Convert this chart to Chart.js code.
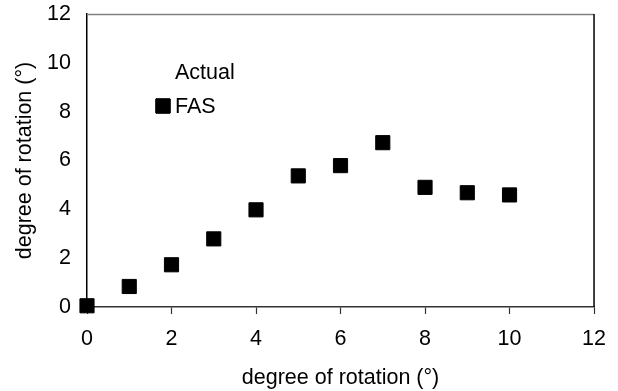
<!DOCTYPE html>
<html>
<head>
<meta charset="utf-8">
<script src="https://cdn.jsdelivr.net/npm/chart.js@4/dist/chart.umd.min.js"></script>
<style>
  html, body { margin: 0; padding: 0; background: #fff; }
  #wrap { width: 618px; height: 391px; }
</style>
</head>
<body>
<div id="wrap"><canvas id="c" width="618" height="391"></canvas></div>
<script>
// Applied rotation (degrees) and the rotation measured by FAS
const appliedDeg = [0, 1, 2, 3, 4, 5, 6, 7, 8, 9, 10];
const fasDeg = [0.05, 0.84, 1.73, 2.79, 3.98, 5.37, 5.79, 6.73, 4.90, 4.68, 4.59];
// Reference series has no plotted points
const actualDeg = [];
const axisTicks = [0, 2, 4, 6, 8, 10, 12];

const FONT = "'Liberation Sans', Arial, sans-serif";
const FSIZE = 21.5;

// Frame lines on the top and right of the plot area
const framePlugin = {
  id: 'frame',
  afterDraw(chart) {
    const { ctx, chartArea: a } = chart;
    ctx.save();
    ctx.lineWidth = 1.5;
    ctx.strokeStyle = '#808080';
    ctx.beginPath();
    ctx.moveTo(a.left, a.top + 0.5);
    ctx.lineTo(a.right, a.top + 0.5);
    ctx.stroke();
    ctx.strokeStyle = '#000';
    ctx.beginPath();
    ctx.moveTo(a.right, a.top);
    ctx.lineTo(a.right, a.bottom);
    ctx.stroke();
    ctx.restore();
  }
};

// Legend drawn inside the plot area, one row per dataset
const insideLegend = {
  id: 'insideLegend',
  afterDraw(chart) {
    const { ctx, chartArea: a } = chart;
    const rows = [a.top + 59, a.top + 93];
    ctx.save();
    ctx.font = FSIZE + 'px ' + FONT;
    ctx.fillStyle = '#000';
    ctx.textBaseline = 'middle';
    chart.data.datasets.forEach((ds, i) => {
      const y = rows[i];
      if (ds.pointStyle) {
        Chart.helpers.drawPoint(ctx, {
          pointStyle: ds.pointStyle, radius: ds.pointRadius,
          borderWidth: ds.borderWidth, rotation: 0
        }, a.left + 76, y - 1);
        ctx.fillStyle = ds.pointBackgroundColor;
        ctx.strokeStyle = ds.pointBorderColor;
        ctx.lineWidth = ds.borderWidth;
        ctx.fill();
        ctx.stroke();
        ctx.fillStyle = '#000';
      }
      ctx.fillText(ds.label, a.left + 88, y);
    });
    ctx.restore();
  }
};

new Chart(document.getElementById('c'), {
  type: 'scatter',
  data: {
    datasets: [
      {
        label: 'Actual',
        data: actualDeg.map((v, i) => ({ x: appliedDeg[i], y: v })),
        pointStyle: false,
        showLine: false
      },
      {
        label: 'FAS',
        data: appliedDeg.map((x, i) => ({ x, y: fasDeg[i] })),
        pointStyle: 'rect',
        pointRadius: 10,
        pointHoverRadius: 10,
        borderWidth: 1,
        pointBackgroundColor: '#000',
        pointBorderColor: '#000',
        clip: false
      }
    ]
  },
  options: {
    responsive: false,
    animation: false,
    layout: { padding: { top: 0, right: 19, left: 0, bottom: 0 } },
    plugins: { legend: { display: false }, tooltip: { enabled: false } },
    scales: {
      x: {
        type: 'linear',
        min: 0, max: 12,
        afterBuildTicks(scale) { scale.ticks = axisTicks.map(v => ({ value: v })); },
        afterFit(scale) { scale.height = 84; },
        grid: { drawOnChartArea: false, tickLength: 7, color: '#333', tickColor: '#333', tickWidth: 1.2 },
        border: { color: '#333', width: 1.5 },
        ticks: { color: '#000', font: { family: FONT, size: FSIZE }, padding: 12, maxRotation: 0 },
        title: { display: true, text: 'degree of rotation (°)', color: '#000',
                 font: { family: FONT, size: FSIZE }, padding: { top: 0, bottom: 0 } }
      },
      y: {
        type: 'linear',
        min: 0, max: 12,
        afterBuildTicks(scale) { scale.ticks = axisTicks.map(v => ({ value: v })); },
        afterFit(scale) {
          scale.width = 87;
          scale.paddingTop = 14;
          scale.paddingBottom = 0;
        },
        grid: { drawOnChartArea: false, drawTicks: false },
        border: { color: '#000', width: 1.5 },
        ticks: { color: '#000', font: { family: FONT, size: FSIZE }, padding: 16 },
        title: { display: true, text: 'degree of rotation (°)', color: '#000',
                 font: { family: FONT, size: FSIZE }, padding: { top: 12, bottom: 0 } }
      }
    }
  },
  plugins: [framePlugin, insideLegend]
});
</script>
</body>
</html>
